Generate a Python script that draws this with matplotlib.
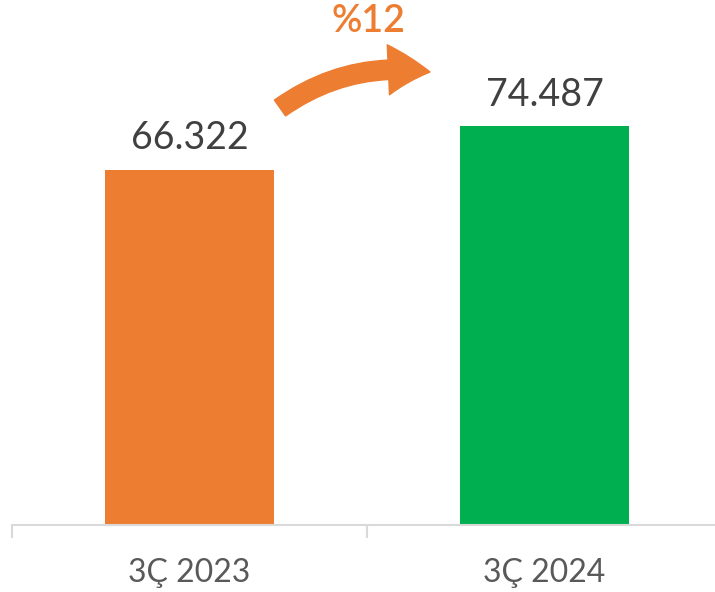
import matplotlib
matplotlib.use("Agg")
import matplotlib.pyplot as plt
from matplotlib.patches import FancyArrowPatch

categories = ["3Ç 2023", "3Ç 2024"]
values = [66322, 74487]
colors = ["#ED7D31", "#00B050"]
change_label = "%12"

def fmt(v):
    return f"{v:,}".replace(",", ".")

plt.rcParams['font.family'] = ['Lato', 'DejaVu Sans']

fig = plt.figure(figsize=(7.15, 5.92), dpi=100)
ax = fig.add_axes([12/715, 67/592, 710/715, 525/592])

x = list(range(len(categories)))
bars = ax.bar(x, values, width=0.476, color=colors)
ax.set_xlim(-0.5, 1.5)
ax.set_ylim(0, 98000)

for xi, v in zip(x, values):
    ax.text(xi, v + 2500, fmt(v), ha='center', va='bottom', fontsize=27, color='#404040')

for s in ['top', 'right', 'left']:
    ax.spines[s].set_visible(False)
ax.spines['bottom'].set_color('#D9D9D9')
ax.spines['bottom'].set_linewidth(1.5)
ax.set_yticks([])
ax.set_xticks(x)
ax.set_xticklabels(categories, fontsize=23, color='#595959')
ax.tick_params(axis='x', which='major', length=0, pad=24)
ax.set_xticks([-0.5, 0.5, 1.5], minor=True)
ax.tick_params(axis='x', which='minor', length=9, width=1.5, color='#D9D9D9', direction='out')

arrow = FancyArrowPatch((280, 592-108), (430, 592-72), transform=None,
                        connectionstyle="arc3,rad=-0.2",
                        arrowstyle="simple,head_length=30,head_width=36,tail_width=14",
                        color='#ED7D31', mutation_scale=1, shrinkA=0, shrinkB=0)
fig.patches.append(arrow)
arrow.set_figure(fig)

fig.text(368/715, 1 - 21/592, change_label, ha='center', va='center', fontsize=27,
         fontweight='semibold', color='#ED7D31')

fig.savefig("out.png", dpi=100)
